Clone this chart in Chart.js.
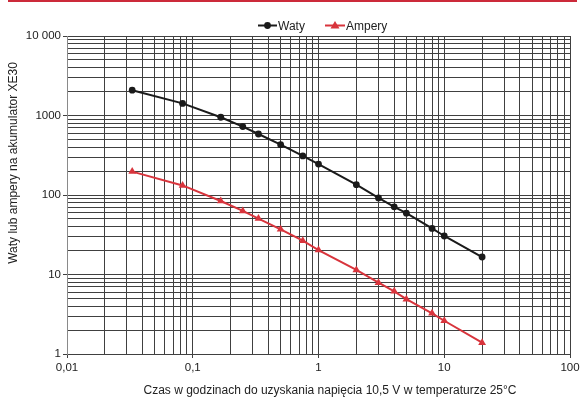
<!DOCTYPE html>
<html>
<head>
<meta charset="utf-8">
<script src="https://cdn.jsdelivr.net/npm/chart.js@4"></script>
<style>
  html, body { margin: 0; padding: 0; background: #fff; }
  #wrap { position: relative; width: 584px; height: 400px; }
  #rule { position: absolute; left: 8px; top: 0; width: 569px; height: 2px; background: #cc2a3a; }
  canvas { position: absolute; left: 0; top: 0; }
</style>
</head>
<body>
<div id="wrap">
  <canvas id="chart" width="584" height="400"></canvas>
  <div id="rule"></div>
</div>
<script>
// Discharge time in hours (2 min ... 20 h)
const hours = [0.033, 0.083, 0.167, 0.25, 0.333, 0.5, 0.75, 1, 2, 3, 4, 5, 8, 10, 20];
const waty = [2080, 1420, 950, 725, 585, 430, 310, 245, 135, 92, 71, 59, 38, 30.5, 16.6];
const ampery = [197, 132, 84, 63, 50.5, 37, 26.6, 20.3, 11.4, 7.9, 6.15, 4.9, 3.25, 2.62, 1.39];

// Decade ticks and their labels
const xDecades = [0.01, 0.1, 1, 10, 100];
const xLabels = ['0,01', '0,1', '1', '10', '100'];
const yDecades = [1, 10, 100, 1000, 10000];
const yLabels = ['1', '10', '100', '1000', '10 000'];
const minorSteps = [2, 3, 4, 5, 6, 7, 8, 9];

const FONT = "'Liberation Sans', Arial, sans-serif";
const TEXT = '#222';
const GRID = '#404040';
const BLACK = '#1a1a1a';
const RED = '#d8343c';

function gridValues(decades) {
  const out = [];
  decades.forEach((d, i) => {
    out.push(d);
    if (i < decades.length - 1) minorSteps.forEach(k => out.push(d * k));
  });
  return out;
}

function labelFor(value, decades, labels) {
  const i = decades.findIndex(d => Math.abs(value - d) / d < 1e-6);
  return i >= 0 ? labels[i] : '';
}

function isDecade(value, decades) {
  return decades.some(d => Math.abs(value - d) / d < 1e-6);
}

// Legend (line + marker) and axis titles
const decorations = {
  id: 'decorations',
  afterDraw(chart) {
    const ctx = chart.ctx;
    ctx.save();

    const items = [
      { label: 'Waty', color: BLACK, x0: 258, x1: 277, style: 'circle' },
      { label: 'Ampery', color: RED, x0: 325, x1: 345, style: 'triangle' }
    ];
    const ly = 25.5;
    items.forEach(it => {
      ctx.strokeStyle = it.color;
      ctx.fillStyle = it.color;
      ctx.lineWidth = 2;
      ctx.beginPath();
      ctx.moveTo(it.x0, ly);
      ctx.lineTo(it.x1, ly);
      ctx.stroke();
      const cx = (it.x0 + it.x1) / 2;
      ctx.beginPath();
      if (it.style === 'circle') {
        ctx.arc(cx, ly, 3.4, 0, Math.PI * 2);
      } else {
        ctx.moveTo(cx, ly - 4.5);
        ctx.lineTo(cx + 4.5, ly + 3);
        ctx.lineTo(cx - 4.5, ly + 3);
        ctx.closePath();
      }
      ctx.fill();
      ctx.fillStyle = TEXT;
      ctx.font = '12px ' + FONT;
      ctx.textAlign = 'left';
      ctx.textBaseline = 'alphabetic';
      ctx.fillText(it.label, it.x1 + 1, 29.5);
    });

    ctx.fillStyle = TEXT;
    ctx.font = '12px ' + FONT;
    ctx.textAlign = 'center';
    ctx.textBaseline = 'middle';
    ctx.fillText('Czas w godzinach do uzyskania napięcia 10,5 V w temperaturze 25°C', 330, 391);

    ctx.translate(14, 163);
    ctx.rotate(-Math.PI / 2);
    ctx.fillText('Waty lub ampery na akumulator XE30', 0, 0);
    ctx.restore();
  }
};

new Chart(document.getElementById('chart'), {
  type: 'line',
  data: {
    datasets: [
      {
        label: 'Waty',
        data: hours.map((h, i) => ({ x: h, y: waty[i] })),
        borderColor: BLACK,
        backgroundColor: BLACK,
        borderWidth: 2,
        pointStyle: 'circle',
        pointRadius: 3.4,
        pointBorderWidth: 0,
        tension: 0
      },
      {
        label: 'Ampery',
        data: hours.map((h, i) => ({ x: h, y: ampery[i] })),
        borderColor: RED,
        backgroundColor: RED,
        borderWidth: 2,
        pointStyle: 'triangle',
        pointRadius: 4.5,
        pointBorderWidth: 0,
        tension: 0
      }
    ]
  },
  options: {
    responsive: false,
    animation: false,
    layout: { padding: { left: 0, right: 14, top: 36, bottom: 0 } },
    plugins: {
      legend: { display: false },
      tooltip: { enabled: false }
    },
    scales: {
      x: {
        type: 'logarithmic',
        min: 0.01,
        max: 100,
        afterBuildTicks(scale) {
          scale.ticks = gridValues(xDecades).map(v => ({ value: v }));
        },
        afterFit(scale) { scale.height = 46; },
        grid: {
          color: GRID,
          lineWidth: 1,
          tickLength: 4,
          tickColor: c => (c.tick && isDecade(c.tick.value, xDecades) ? GRID : 'rgba(0,0,0,0)')
        },
        border: { color: GRID },
        ticks: {
          autoSkip: false,
          maxRotation: 0,
          padding: 3,
          color: TEXT,
          font: { family: FONT, size: 11.5 },
          callback: v => labelFor(v, xDecades, xLabels)
        }
      },
      y: {
        type: 'logarithmic',
        min: 1,
        max: 10000,
        afterBuildTicks(scale) {
          scale.ticks = gridValues(yDecades).map(v => ({ value: v }));
        },
        afterFit(scale) { scale.width = 67; },
        grid: {
          color: GRID,
          lineWidth: 1,
          tickLength: 4,
          tickColor: c => (c.tick && isDecade(c.tick.value, yDecades) ? GRID : 'rgba(0,0,0,0)')
        },
        border: { color: '#8a8a8a' },
        ticks: {
          autoSkip: false,
          padding: 2,
          color: TEXT,
          font: { family: FONT, size: 11.5 },
          callback: v => labelFor(v, yDecades, yLabels)
        }
      }
    }
  },
  plugins: [decorations]
});
</script>
</body>
</html>
